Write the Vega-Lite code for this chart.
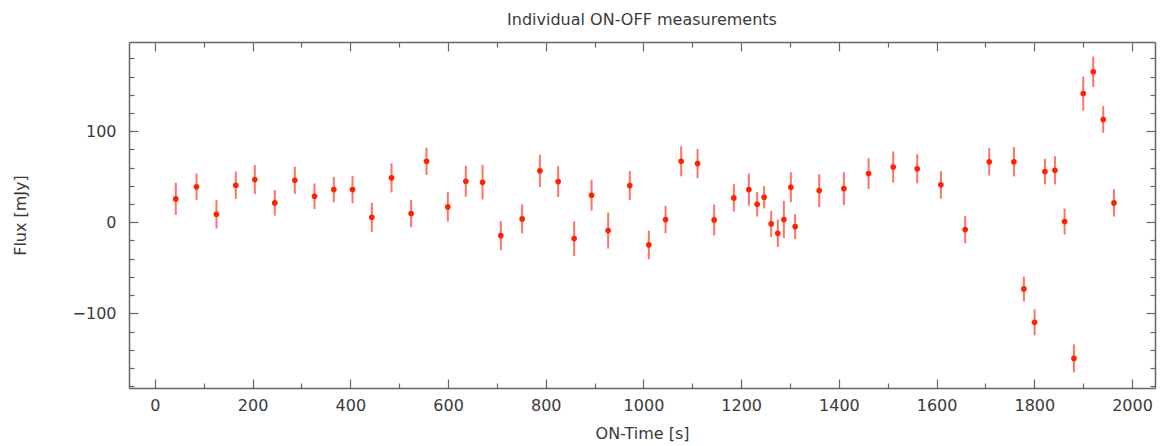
{
  "$schema": "https://vega.github.io/schema/vega-lite/v6.json",
  "width": 1026,
  "height": 346,
  "autosize": "none",
  "padding": {"left": 129, "top": 42, "right": 5, "bottom": 58},
  "background": "white",
  "title": {"text": "Individual ON-OFF measurements", "fontSize": 16, "fontWeight": "normal", "font": "DejaVu Sans", "color": "#3a3a3a", "offset": 13},
  "config": {
    "view": {"stroke": null},
    "axis": {"grid": false, "domainColor": "#666", "domainWidth": 1.5, "tickColor": "#666", "tickWidth": 1.2,
      "labelFont": "DejaVu Sans", "labelFontSize": 16, "labelColor": "#3a3a3a", "titleFont": "DejaVu Sans", "titleFontSize": 16, "titleFontWeight": "normal", "titleColor": "#3a3a3a"}
  },
  "data": {"values": [
    {"t": 42.8, "flux": 25.7, "err": 17.6},
    {"t": 85.2, "flux": 38.9, "err": 14.6},
    {"t": 126, "flux": 8.8, "err": 15.6},
    {"t": 165.6, "flux": 40.7, "err": 15},
    {"t": 204.5, "flux": 46.9, "err": 16},
    {"t": 245.4, "flux": 21.3, "err": 14},
    {"t": 286.4, "flux": 46.2, "err": 15},
    {"t": 326.7, "flux": 28.6, "err": 14},
    {"t": 366.2, "flux": 35.9, "err": 14},
    {"t": 404.5, "flux": 35.9, "err": 15},
    {"t": 444, "flux": 5.5, "err": 16},
    {"t": 484.3, "flux": 48.8, "err": 16},
    {"t": 524.5, "flux": 9.6, "err": 15},
    {"t": 556, "flux": 67, "err": 15},
    {"t": 599.6, "flux": 16.9, "err": 16},
    {"t": 636.4, "flux": 45.1, "err": 17},
    {"t": 670.6, "flux": 44, "err": 19},
    {"t": 708, "flux": -14.6, "err": 16},
    {"t": 751.7, "flux": 3.7, "err": 16},
    {"t": 788, "flux": 56.5, "err": 17.8},
    {"t": 825.4, "flux": 44.7, "err": 17},
    {"t": 858.1, "flux": -17.9, "err": 19},
    {"t": 893.8, "flux": 29.7, "err": 17},
    {"t": 927.7, "flux": -9.1, "err": 19.8},
    {"t": 972, "flux": 40.3, "err": 16},
    {"t": 1011, "flux": -24.8, "err": 15.8},
    {"t": 1045.2, "flux": 3, "err": 15},
    {"t": 1077.2, "flux": 67, "err": 16.5},
    {"t": 1110.7, "flux": 64.5, "err": 16},
    {"t": 1144.7, "flux": 2.6, "err": 17},
    {"t": 1185, "flux": 26.8, "err": 15},
    {"t": 1215.7, "flux": 35.9, "err": 17.6},
    {"t": 1232.7, "flux": 19.8, "err": 13.4},
    {"t": 1247, "flux": 27.5, "err": 12.3},
    {"t": 1261.4, "flux": -1.8, "err": 14.5},
    {"t": 1275, "flux": -12.1, "err": 15},
    {"t": 1287.4, "flux": 3, "err": 20.5},
    {"t": 1301.7, "flux": 38.5, "err": 16.5},
    {"t": 1310.5, "flux": -4.7, "err": 13.7},
    {"t": 1359.7, "flux": 34.8, "err": 18},
    {"t": 1410.2, "flux": 37, "err": 18},
    {"t": 1460.8, "flux": 53.5, "err": 17},
    {"t": 1511.2, "flux": 60.7, "err": 17},
    {"t": 1560.3, "flux": 58.7, "err": 16},
    {"t": 1608.8, "flux": 41.1, "err": 15},
    {"t": 1658.5, "flux": -8, "err": 15},
    {"t": 1707.7, "flux": 66.4, "err": 15},
    {"t": 1758.2, "flux": 66.4, "err": 16},
    {"t": 1778.7, "flux": -73.2, "err": 13.6},
    {"t": 1800.6, "flux": -109.9, "err": 14.3},
    {"t": 1821.7, "flux": 55.7, "err": 14},
    {"t": 1842.2, "flux": 57.1, "err": 15.5},
    {"t": 1862, "flux": 0.8, "err": 14.3},
    {"t": 1881.1, "flux": -149.5, "err": 15.4},
    {"t": 1900.1, "flux": 141.4, "err": 18.7},
    {"t": 1920.6, "flux": 165.3, "err": 16.7},
    {"t": 1941, "flux": 112.9, "err": 14.7},
    {"t": 1963, "flux": 21.3, "err": 15}
  ]},
  "resolve": {"axis": {"x": "independent", "y": "independent"}},
  "layer": [
    {
      "mark": {"type": "errorbar", "color": "#ff4433", "opacity": 0.75, "thickness": 2},
      "encoding": {
        "x": {"field": "t", "type": "quantitative",
          "scale": {"domain": [-53, 2047], "nice": false, "zero": false},
          "axis": {"orient": "bottom", "title": "ON-Time [s]", "format": "d",
            "values": [0,100,200,300,400,500,600,700,800,900,1000,1100,1200,1300,1400,1500,1600,1700,1800,1900,2000],
            "labelExpr": "datum.value % 200 === 0 ? datum.label : ''",
            "tickSize": {"condition": {"test": "datum.value % 200 === 0", "value": -9}, "value": -5},
            "labelPadding": 18, "titleX": 513, "titleY": 45, "titleBaseline": "middle"}},
        "y": {"field": "flux", "type": "quantitative",
          "scale": {"domain": [-182, 198], "nice": false, "zero": false},
          "axis": {"orient": "left", "title": "Flux [mJy]",
            "values": [-180,-160,-140,-120,-100,-80,-60,-40,-20,0,20,40,60,80,100,120,140,160,180],
            "labelExpr": "datum.value % 100 === 0 ? datum.label : ''",
            "tickSize": {"condition": {"test": "datum.value % 100 === 0", "value": -9}, "value": -5},
            "labelPadding": 22, "titleX": -109, "titleY": 173, "titleBaseline": "middle", "titleAlign": "center", "titleAngle": -90}},
        "yError": {"field": "err"}
      }
    },
    {
      "mark": {"type": "point", "filled": true, "color": "#ff2200", "size": 32, "opacity": 1},
      "encoding": {
        "x": {"field": "t", "type": "quantitative",
          "axis": {"orient": "top", "title": null, "labels": false,
            "values": [0,100,200,300,400,500,600,700,800,900,1000,1100,1200,1300,1400,1500,1600,1700,1800,1900,2000],
            "tickSize": {"condition": {"test": "datum.value % 200 === 0", "value": -9}, "value": -5}}},
        "y": {"field": "flux", "type": "quantitative",
          "axis": {"orient": "right", "title": null, "labels": false,
            "values": [-180,-160,-140,-120,-100,-80,-60,-40,-20,0,20,40,60,80,100,120,140,160,180],
            "tickSize": {"condition": {"test": "datum.value % 100 === 0", "value": -9}, "value": -5}}}
      }
    }
  ]
}
